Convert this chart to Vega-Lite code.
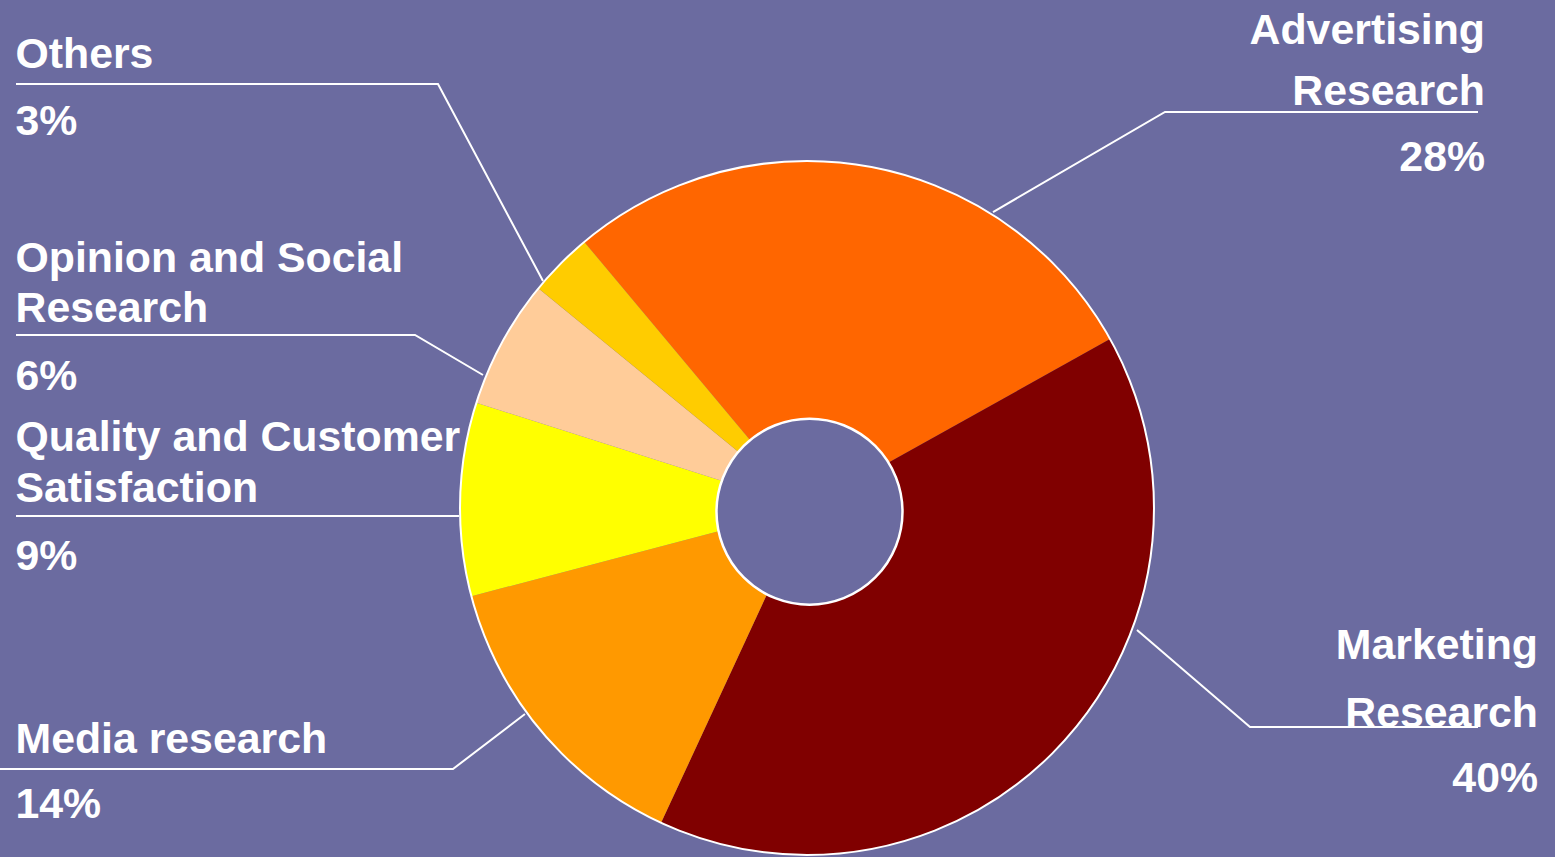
{
  "$schema": "https://vega.github.io/schema/vega-lite/v6.json",
  "width": 1555,
  "height": 857,
  "autosize": {"type": "none"},
  "padding": 0,
  "background": "#6B6BA0",
  "config": {"view": {"stroke": null}},
  "datasets": {
    "slices": [
      {"segment": "Advertising Research", "share": 28, "rank": 1},
      {"segment": "Marketing Research", "share": 40, "rank": 2},
      {"segment": "Media research", "share": 14, "rank": 3},
      {"segment": "Quality and Customer Satisfaction", "share": 9, "rank": 4},
      {"segment": "Opinion and Social Research", "share": 6, "rank": 5},
      {"segment": "Others", "share": 3, "rank": 6}
    ],
    "leaders": [
      {"segment": "Others", "pt": 1, "lx": -2.2795, "ly": 1.2219},
      {"segment": "Others", "pt": 2, "lx": -1.0634, "ly": 1.2219},
      {"segment": "Others", "pt": 3, "lx": -0.7608, "ly": 0.6542},
      {"segment": "Opinion and Social Research", "pt": 1, "lx": -2.2795, "ly": 0.4986},
      {"segment": "Opinion and Social Research", "pt": 2, "lx": -1.1297, "ly": 0.4986},
      {"segment": "Opinion and Social Research", "pt": 3, "lx": -0.9337, "ly": 0.3833},
      {"segment": "Quality and Customer Satisfaction", "pt": 1, "lx": -2.2795, "ly": -0.0231},
      {"segment": "Quality and Customer Satisfaction", "pt": 2, "lx": -1.0029, "ly": -0.0231},
      {"segment": "Media research", "pt": 1, "lx": -2.3256, "ly": -0.7522},
      {"segment": "Media research", "pt": 2, "lx": -1.0202, "ly": -0.7522},
      {"segment": "Media research", "pt": 3, "lx": -0.8127, "ly": -0.5937},
      {"segment": "Advertising Research", "pt": 1, "lx": 1.9337, "ly": 1.1412},
      {"segment": "Advertising Research", "pt": 2, "lx": 1.0317, "ly": 1.1412},
      {"segment": "Advertising Research", "pt": 3, "lx": 0.5360, "ly": 0.8530},
      {"segment": "Marketing Research", "pt": 1, "lx": 1.9337, "ly": -0.6311},
      {"segment": "Marketing Research", "pt": 2, "lx": 1.2767, "ly": -0.6311},
      {"segment": "Marketing Research", "pt": 3, "lx": 0.9510, "ly": -0.3516}
    ],
    "labels": [
      {"segment": "Others", "side": "left", "text": "Others", "lx": -2.2810, "ly": 1.2680},
      {"segment": "Others", "side": "left", "text": "3%", "lx": -2.2810, "ly": 1.0749},
      {"segment": "Opinion and Social Research", "side": "left", "text": "Opinion and Social", "lx": -2.2810, "ly": 0.6801},
      {"segment": "Opinion and Social Research", "side": "left", "text": "Research", "lx": -2.2810, "ly": 0.5360},
      {"segment": "Opinion and Social Research", "side": "left", "text": "6%", "lx": -2.2810, "ly": 0.3401},
      {"segment": "Quality and Customer Satisfaction", "side": "left", "text": "Quality and Customer", "lx": -2.2810, "ly": 0.1643},
      {"segment": "Quality and Customer Satisfaction", "side": "left", "text": "Satisfaction", "lx": -2.2810, "ly": 0.0173},
      {"segment": "Quality and Customer Satisfaction", "side": "left", "text": "9%", "lx": -2.2810, "ly": -0.1787},
      {"segment": "Media research", "side": "left", "text": "Media research", "lx": -2.2810, "ly": -0.7061},
      {"segment": "Media research", "side": "left", "text": "14%", "lx": -2.2810, "ly": -0.8934},
      {"segment": "Advertising Research", "side": "right", "text": "Advertising", "lx": 1.9539, "ly": 1.3372},
      {"segment": "Advertising Research", "side": "right", "text": "Research", "lx": 1.9539, "ly": 1.1600},
      {"segment": "Advertising Research", "side": "right", "text": "28%", "lx": 1.9539, "ly": 0.9712},
      {"segment": "Marketing Research", "side": "right", "text": "Marketing", "lx": 2.1066, "ly": -0.4352},
      {"segment": "Marketing Research", "side": "right", "text": "Research", "lx": 2.1066, "ly": -0.6311},
      {"segment": "Marketing Research", "side": "right", "text": "40%", "lx": 2.1066, "ly": -0.8199}
    ]
  },
  "encoding": {
    "x": {"type": "quantitative", "scale": {"domain": [-2.3256, 2.1556], "nice": false, "zero": false}, "axis": null},
    "y": {"type": "quantitative", "scale": {"domain": [-1.0058, 1.4640], "nice": false, "zero": false}, "axis": null}
  },
  "layer": [
    {
      "data": {"name": "slices"},
      "mark": {"type": "arc", "outerRadius": 347, "innerRadius": 0},
      "encoding": {
        "x": {"datum": 0, "type": "quantitative"},
        "y": {"datum": 0, "type": "quantitative"},
        "theta": {"field": "share", "type": "quantitative", "stack": true, "scale": {"domain": [0, 100], "range": [-0.697, 5.5862]}},
        "order": {"field": "rank", "type": "quantitative"},
        "color": {
          "field": "segment",
          "type": "nominal",
          "legend": null,
          "scale": {
            "domain": ["Advertising Research", "Marketing Research", "Media research", "Quality and Customer Satisfaction", "Opinion and Social Research", "Others"],
            "range": ["#FF6600", "#800000", "#FF9900", "#FFFF00", "#FFCC99", "#FFCC00"]
          }
        }
      }
    },
    {
      "data": {"values": [{"ring": "outer"}]},
      "mark": {"type": "arc", "theta": 0, "theta2": 6.2832, "outerRadius": 347, "innerRadius": 0, "fill": null, "fillOpacity": 0, "stroke": "#FFFFFF", "strokeWidth": 2},
      "encoding": {
        "x": {"datum": 0, "type": "quantitative"},
        "y": {"datum": 0, "type": "quantitative"}
      }
    },
    {
      "data": {"values": [{"ring": "hole"}]},
      "mark": {"type": "arc", "theta": 0, "theta2": 6.2832, "outerRadius": 93, "innerRadius": 0, "fill": "#6B6BA0", "stroke": "#FFFFFF", "strokeWidth": 2.5},
      "encoding": {
        "x": {"datum": 0.0072, "type": "quantitative"},
        "y": {"datum": -0.0107, "type": "quantitative"}
      }
    },
    {
      "data": {"name": "leaders"},
      "mark": {"type": "line", "stroke": "#FFFFFF", "strokeWidth": 2},
      "encoding": {
        "x": {"field": "lx", "type": "quantitative"},
        "y": {"field": "ly", "type": "quantitative"},
        "detail": {"field": "segment", "type": "nominal"},
        "order": {"field": "pt", "type": "quantitative"}
      }
    },
    {
      "data": {"name": "labels"},
      "transform": [{"filter": "datum.side === 'left'"}],
      "mark": {"type": "text", "align": "left", "baseline": "alphabetic", "font": "Liberation Sans", "fontWeight": "bold", "fontSize": 42.8, "fill": "#FFFFFF"},
      "encoding": {
        "x": {"field": "lx", "type": "quantitative"},
        "y": {"field": "ly", "type": "quantitative"},
        "text": {"field": "text", "type": "nominal"}
      }
    },
    {
      "data": {"name": "labels"},
      "transform": [{"filter": "datum.side === 'right'"}],
      "mark": {"type": "text", "align": "right", "baseline": "alphabetic", "font": "Liberation Sans", "fontWeight": "bold", "fontSize": 42.8, "fill": "#FFFFFF"},
      "encoding": {
        "x": {"field": "lx", "type": "quantitative"},
        "y": {"field": "ly", "type": "quantitative"},
        "text": {"field": "text", "type": "nominal"}
      }
    }
  ]
}
